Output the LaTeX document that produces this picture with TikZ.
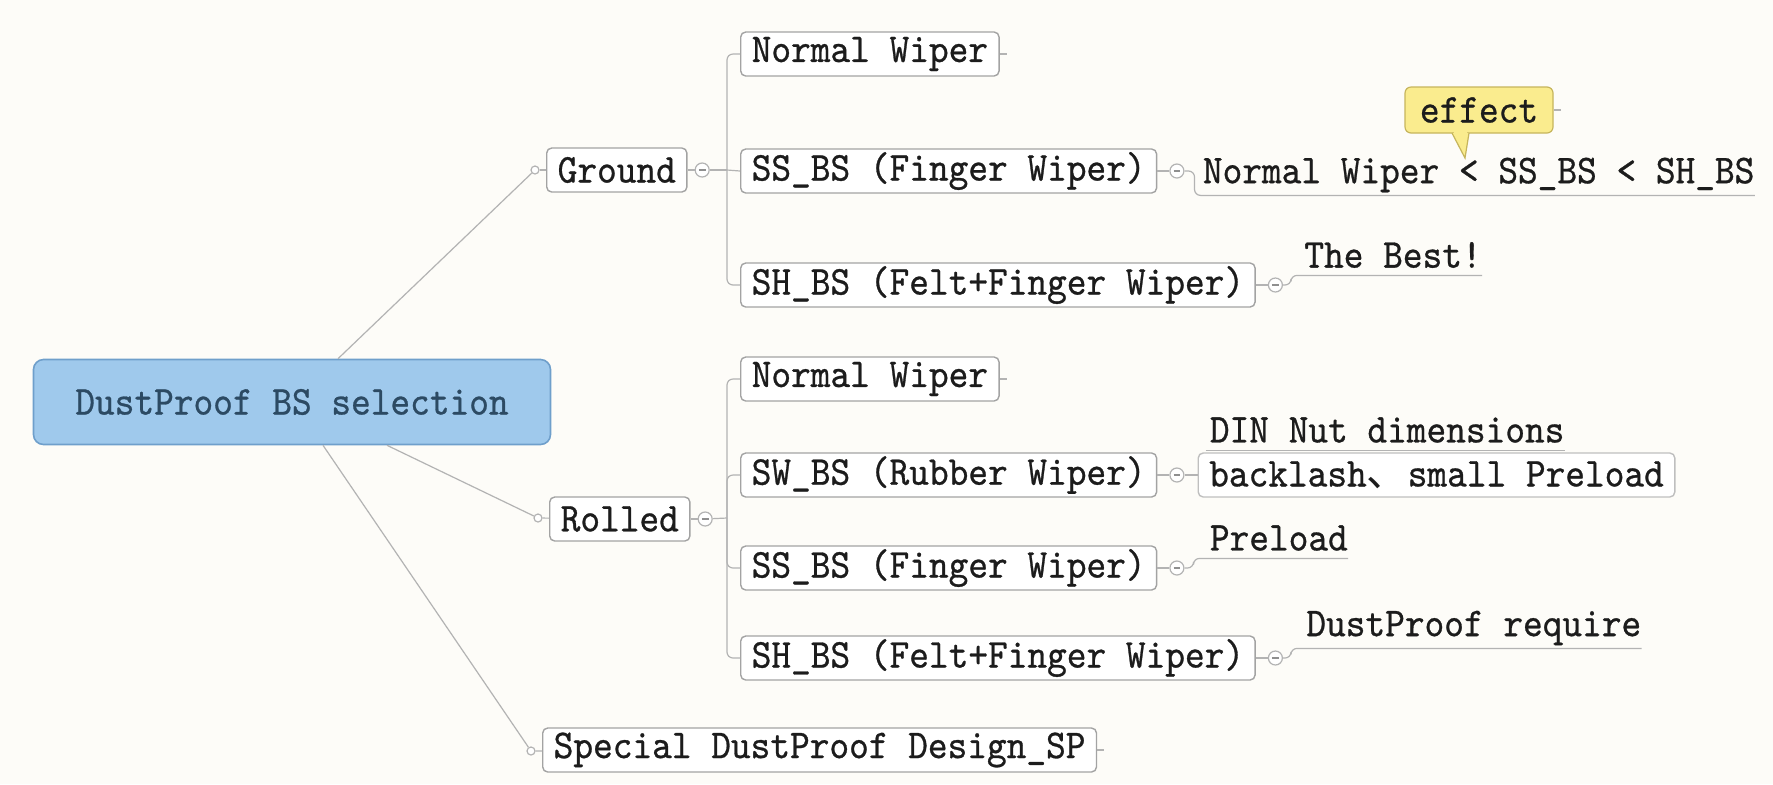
\documentclass[tikz,border=0pt]{standalone}
\usepackage{fontspec}
\setmainfont{lmmono10-regular.otf}[FakeStretch=0.915, FakeBold=0.7]
\newfontfamily\cjk{Noto Sans CJK SC}
\usetikzlibrary{calc,positioning}
\definecolor{bg}{HTML}{FDFCF8}
\definecolor{rootfill}{HTML}{9FC9EC}
\definecolor{rootdraw}{HTML}{6F9FCB}
\definecolor{roottext}{HTML}{2C4A63}
\definecolor{boxdraw}{HTML}{A3A3A3}
\definecolor{connline}{HTML}{B3B3B3}
\definecolor{txt}{HTML}{1C1C1C}
\definecolor{efffill}{HTML}{FAEC8E}
\definecolor{effdraw}{HTML}{C6B55C}
\tikzset{
  conn/.style={draw=connline, line width=0.6pt},
  rootbox/.style={rectangle, rounded corners=5pt, fill=rootfill, draw=rootdraw, line width=0.8pt,
    text=roottext, minimum width=258.5pt, minimum height=42.5pt, inner sep=0pt},
  topic/.style={rectangle, rounded corners=2.5pt, draw=boxdraw, fill=white, line width=0.7pt,
    text=txt, minimum height=22pt, inner xsep=5.5pt, inner ysep=0pt, anchor=west},
  lightbox/.style={topic, draw=boxdraw!70},
  note/.style={rectangle, inner xsep=0pt, inner ysep=0pt, minimum height=20pt, text=txt, anchor=west},
  dot/.style={circle, draw=connline, fill=white, line width=0.6pt, minimum size=4pt, inner sep=0pt},
  collapse/.style={circle, draw=connline, fill=white, line width=0.6pt, minimum size=7pt, inner sep=0pt,
    path picture={\draw[connline!80!black, line width=0.6pt]
      ([xshift=-1.7pt]path picture bounding box.center) -- ([xshift=1.7pt]path picture bounding box.center);}},
  elbow/.style={conn, rounded corners=3pt},
}
\begin{document}
\begin{tikzpicture}[x=0.5pt, y=-0.5pt, font=\fontsize{20.5}{24}\selectfont]
\useasboundingbox (0,0) rectangle (1773,784);
\fill[bg] (0,0) rectangle (1773,784);

% root
\node[rootbox] (root) at (292,402) {DustProof BS selection};

% ---------- Ground ----------
\node[dot] (gdot) at (535,170) {};
\node[topic] (ground) at (546,170) {Ground};
\node[collapse, right=3.5pt of ground] (gcol) {};
\coordinate (gbar) at (727,170);
\node[topic] (gn) at (740,54) {Normal Wiper};
\node[topic] (gss) at (740,171) {SS\_BS (Finger Wiper)};
\node[topic] (gsh) at (740,285) {SH\_BS (Felt+Finger Wiper)};
\node[collapse, right=6pt of gss] (gsscol) {};
\node[collapse, right=6pt of gsh] (gshcol) {};
\node[note] (n1) at ($(gsscol.east)+(18,4)$) {Normal Wiper < SS\_BS < SH\_BS};
\node[note] (n2) at ($(gshcol.east)+(21,-30)$) {The Best!};

\draw[conn] ($(root.north)+(46,0)$) -- (gdot);
\draw[conn] (gdot) -- (ground);
\draw[conn] (ground) -- (gcol);
\draw[conn] (gcol) -- (gbar);
\draw[elbow] (gbar) |- (gn.west);
\draw[conn] (gbar) -- (gss.west);
\draw[elbow] (gbar) |- (gsh.west);
\draw[conn] (gn.east) -- ++(7,0);
\draw[conn] (gss) -- (gsscol);
\draw[conn] (gsh) -- (gshcol);
\draw[elbow] (gsscol.east) -- ++(10,0) |- (n1.south east);
\draw[elbow] (gshcol.east) -- ++(8,0) |- (n2.south east);

% effect callout
\node[rectangle, rounded corners=3pt, fill=efffill, draw=effdraw, line width=0.6pt, text=txt,
  minimum width=74pt, minimum height=23pt, inner sep=0pt] (eff) at (1479,110) {effect};
\draw[effdraw, line width=0.6pt, fill=efffill] (1452,133) -- (1465,158) -- (1469,133);
\fill[efffill] (1453.6,130) rectangle (1467.4,134.5);
\draw[conn] (eff.east) -- ++(7,0);

% ---------- Rolled ----------
\node[dot] (rdot) at (538,518) {};
\node[topic] (rolled) at (549,519) {Rolled};
\node[collapse, right=3.5pt of rolled] (rcol) {};
\coordinate (rbar) at (727,518);
\node[topic] (rn) at (740,379) {Normal Wiper};
\node[topic] (rsw) at (740,475) {SW\_BS (Rubber Wiper)};
\node[topic] (rss) at (740,568) {SS\_BS (Finger Wiper)};
\node[topic] (rsh) at (740,658) {SH\_BS (Felt+Finger Wiper)};
\node[collapse, right=6pt of rsw] (rswcol) {};
\node[collapse, right=6pt of rss] (rsscol) {};
\node[collapse, right=6pt of rsh] (rshcol) {};
\node[note] (din) at ($(rswcol.east)+(25,-45)$) {DIN Nut dimensions};
\node[lightbox] (bk) at ($(rswcol.east)+(13,0)$) {backlash{\cjk 、}small Preload};
\node[note] (pre) at ($(rsscol.east)+(25,-30)$) {Preload};
\node[note] (dpr) at ($(rshcol.east)+(23,-30)$) {DustProof require};

\draw[conn] ($(root.south)+(95,0)$) -- (rdot);
\draw[conn] (rdot) -- (rolled);
\draw[conn] (rolled) -- (rcol);
\draw[conn] (rcol) -- (rbar);
\draw[elbow] (rbar) |- (rn.west);
\draw[elbow] (rbar) |- (rsw.west);
\draw[elbow] (rbar) |- (rss.west);
\draw[elbow] (rbar) |- (rsh.west);
\draw[conn] (rn.east) -- ++(7,0);
\draw[conn] (rsw) -- (rswcol);
\draw[conn] (rss) -- (rsscol);
\draw[conn] (rsh) -- (rshcol);
\draw[conn] (rswcol) -- (bk);
\draw[conn] ($(din.south west)+(-4,0)$) -- (din.south east);
\draw[elbow] (rsscol.east) -- ++(9,0) |- (pre.south east);
\draw[elbow] (rshcol.east) -- ++(8,0) |- (dpr.south east);

% ---------- Special ----------
\node[dot] (sdot) at (531,751) {};
\node[topic] (spec) at (542,750) {Special DustProof Design\_SP};
\draw[conn] ($(root.south)+(31,0)$) -- (sdot);
\draw[conn] (sdot) -- (spec);
\draw[conn] (spec.east) -- ++(7,0);
\end{tikzpicture}
\end{document}
